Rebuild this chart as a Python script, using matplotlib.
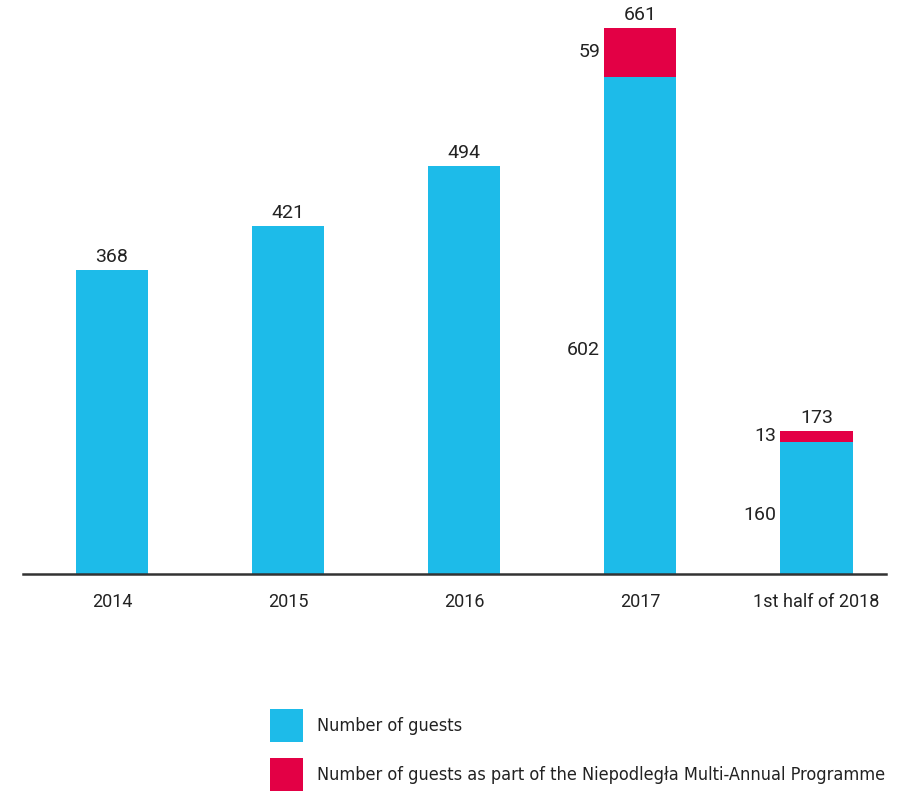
import numpy as np
import matplotlib.pyplot as plt
from matplotlib import font_manager

# guest counts per period
periods = ["2014", "2015", "2016", "2017", "1st half of 2018"]
guests = [368, 421, 494, 602, 160]
programme_guests = [0, 0, 0, 59, 13]
totals = [368, 421, 494, 661, 173]

blue = "#1dbbe9"
red = "#e30045"

# narrow face for the legend if one is installed, otherwise a smaller Roboto
fonts = font_manager.fontManager.ttflist
narrow = None
for f in fonts:
    if f.stretch in ("condensed", "semi-condensed") or "Narrow" in f.name or "Condensed" in f.name:
        narrow = {"family": f.name, "stretch": f.stretch, "size": 13}
        break
if narrow is None:
    narrow = {"family": "Roboto", "size": 11}

plt.rcParams["font.family"] = ["Roboto", "DejaVu Sans"]

W, H = 908, 791
fig = plt.figure(figsize=(W / 100, H / 100), dpi=100)
ax = fig.add_axes([23 / W, 1 - 574 / H, 863 / W, 574 / H])

x = np.arange(len(periods))
width = 0.41
b1 = ax.bar(x, guests, width, color=blue, label="Number of guests")
b2 = ax.bar(x, programme_guests, width, bottom=guests, color=red,
            label="Number of guests as part of the Niepodległa Multi-Annual Programme")

ax.set_xlim(-0.505, 4.395)
ax.set_ylim(0, 695)

for s in ["top", "right", "left"]:
    ax.spines[s].set_visible(False)
ax.spines["bottom"].set_color("#333333")
ax.spines["bottom"].set_linewidth(1.8)
ax.set_yticks([])
ax.set_xticks(x)
ax.set_xticklabels(periods, fontsize=13, color="#222222")
ax.tick_params(axis="x", length=0, pad=14)

for i in range(len(periods)):
    # total above each bar
    ax.annotate(str(totals[i]), (x[i], totals[i]), xytext=(0, 3),
                textcoords="offset points", ha="center", va="bottom",
                fontsize=14, color="#222222")
    if programme_guests[i] > 0:
        ax.annotate(str(guests[i]), (x[i] - width / 2, guests[i] * 0.45),
                    xytext=(-3, 0), textcoords="offset points",
                    ha="right", va="center", fontsize=14, color="#222222")
        ax.annotate(str(programme_guests[i]),
                    (x[i] - width / 2, guests[i] + programme_guests[i] / 2),
                    xytext=(-3, 0), textcoords="offset points",
                    ha="right", va="center", fontsize=14, color="#222222")

# legend swatches about 33 px square, rows 49 px apart
fs_px = narrow["size"] * 100 / 72
hh = (33 / fs_px - 0.245) / 0.65
leg = fig.legend(handles=[b1, b2], loc="upper left",
                 bbox_to_anchor=(270 / W, 1 - 709 / H), frameon=False,
                 borderpad=0, borderaxespad=0, handlelength=33 / fs_px,
                 handleheight=hh, handletextpad=14 / fs_px,
                 labelspacing=16 / fs_px, prop=narrow)
for t in leg.get_texts():
    t.set_color("#222222")

fig.savefig("out.png", dpi=100)
